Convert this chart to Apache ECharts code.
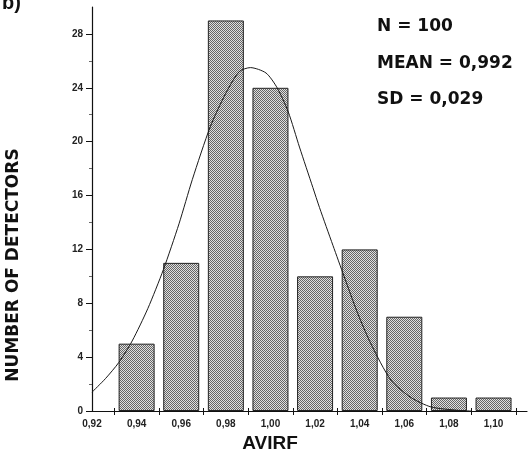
<!DOCTYPE html>
<html>
<head>
<meta charset="utf-8">
<script src="https://cdn.jsdelivr.net/npm/echarts@6/dist/echarts.min.js"></script>
<style>
  html, body { margin: 0; padding: 0; background: #fff; }
  #chart { width: 528px; height: 454px; }
</style>
</head>
<body>
<div id="chart"></div>
<script>
// histogram bins (AVIRF) and counts
const binCenters = [0.94, 0.96, 0.98, 1.00, 1.02, 1.04, 1.06, 1.08, 1.10];
const counts = [5, 11, 29, 24, 10, 12, 7, 1, 1];

// fitted normal curve
const curveX = [0.920, 0.926, 0.932, 0.938, 0.945, 0.952, 0.959, 0.965, 0.973, 0.980, 0.986, 0.991, 0.998, 1.003, 1.008, 1.013, 1.019, 1.022, 1.028, 1.033, 1.039, 1.045, 1.054, 1.063, 1.072, 1.084, 1.090];
const curveY = [1.4, 2.4, 3.6, 5.2, 7.6, 10.5, 13.9, 17.2, 21.1, 23.6, 25.2, 25.5, 25.1, 24.0, 22.2, 19.6, 16.6, 15.1, 12.3, 10.0, 7.3, 5.0, 2.3, 1.0, 0.3, 0.05, 0];

// axis ticks / labels
const xLabelValues = [0.92, 0.94, 0.96, 0.98, 1.00, 1.02, 1.04, 1.06, 1.08, 1.10];
const xTickValues = [0.93, 0.95, 0.97, 0.99, 1.01, 1.03, 1.05, 1.07, 1.09, 1.11];
const yLabelValues = [0, 4, 8, 12, 16, 20, 24, 28];
const yMinorValues = [2, 6, 10, 14, 18, 22, 26];

const statLines = ["N = 100", "MEAN = 0,992", "SD = 0,029"];

// halftone-ish fill for the bars
function makePattern() {
  var c = document.createElement("canvas");
  c.width = 2;
  c.height = 2;
  var ctx = c.getContext("2d");
  ctx.fillStyle = "#e0e0e0";
  ctx.fillRect(0, 0, 2, 2);
  ctx.fillStyle = "#666";
  ctx.fillRect(0, 0, 1, 1);
  ctx.fillRect(1, 1, 1, 1);
  return c;
}

var chart = echarts.init(document.getElementById("chart"), null, { renderer: "canvas" });

var labelFont = { fontFamily: "Liberation Sans", fontWeight: "bold", fontSize: 10, color: "#222" };
var xMin = 0.92, xMax = 1.115;

var option = {
  animation: false,
  backgroundColor: "#fff",
  grid: { left: 92, right: 1, top: 7, bottom: 43 },
  xAxis: [
    {
      type: "value",
      min: xMin,
      max: xMax,
      axisLine: { show: true, lineStyle: { color: "#111", width: 1.2 } },
      axisTick: { show: true, customValues: xTickValues, length: 4, lineStyle: { color: "#111" } },
      axisLabel: Object.assign({
        customValues: xLabelValues,
        margin: 8,
        formatter: function (v) { return v.toFixed(2).replace(".", ","); }
      }, labelFont),
      splitLine: { show: false }
    },
    {
      type: "value",
      min: xMin,
      max: xMax,
      position: "bottom",
      axisLine: { show: false },
      axisTick: { show: true, inside: true, customValues: xTickValues, length: 3, lineStyle: { color: "#111" } },
      axisLabel: { show: false },
      splitLine: { show: false }
    }
  ],
  yAxis: [
    {
      type: "value",
      min: 0,
      max: 30,
      axisLine: { show: true, lineStyle: { color: "#111", width: 1.2 } },
      axisTick: { show: true, customValues: yLabelValues, length: 6, lineStyle: { color: "#111" } },
      axisLabel: Object.assign({ customValues: yLabelValues, margin: 9 }, labelFont),
      splitLine: { show: false }
    },
    {
      type: "value",
      min: 0,
      max: 30,
      position: "left",
      axisLine: { show: false },
      axisTick: { show: true, customValues: yMinorValues, length: 3, lineStyle: { color: "#666" } },
      axisLabel: { show: false },
      splitLine: { show: false }
    }
  ],
  series: [
    {
      type: "bar",
      barWidth: 36,
      xAxisIndex: 0,
      yAxisIndex: 0,
      data: binCenters.map(function (x, i) { return [x, counts[i]]; }),
      itemStyle: {
        color: { image: makePattern(), repeat: "repeat" },
        borderColor: "#222",
        borderWidth: 1
      },
      z: 2
    },
    {
      type: "line",
      smooth: 0.25,
      showSymbol: false,
      xAxisIndex: 0,
      yAxisIndex: 0,
      data: curveX.map(function (x, i) { return [x, curveY[i]]; }),
      lineStyle: { color: "#1a1a1a", width: 1 },
      z: 3
    }
  ],
  graphic: [
    {
      type: "text",
      left: 2,
      top: -7,
      style: { text: "b)", font: "bold 20px 'Liberation Sans'", fill: "#111" }
    },
    {
      type: "text",
      x: 14,
      y: 265,
      rotation: Math.PI / 2,
      style: {
        text: "NUMBER OF DETECTORS",
        font: "bold 17px 'DejaVu Sans'",
        fill: "#111",
        align: "center",
        verticalAlign: "middle"
      }
    },
    {
      type: "text",
      x: 270,
      y: 444,
      style: {
        text: "AVIRF",
        font: "bold 19px 'Liberation Sans'",
        fill: "#111",
        align: "center",
        verticalAlign: "middle"
      }
    }
  ].concat(statLines.map(function (t, i) {
    return {
      type: "text",
      x: 377,
      y: [27, 64, 100][i],
      style: {
        text: t,
        font: "bold 17px 'DejaVu Sans'",
        fill: "#111",
        align: "left",
        verticalAlign: "middle"
      }
    };
  }))
};

chart.setOption(option);
</script>
</body>
</html>
